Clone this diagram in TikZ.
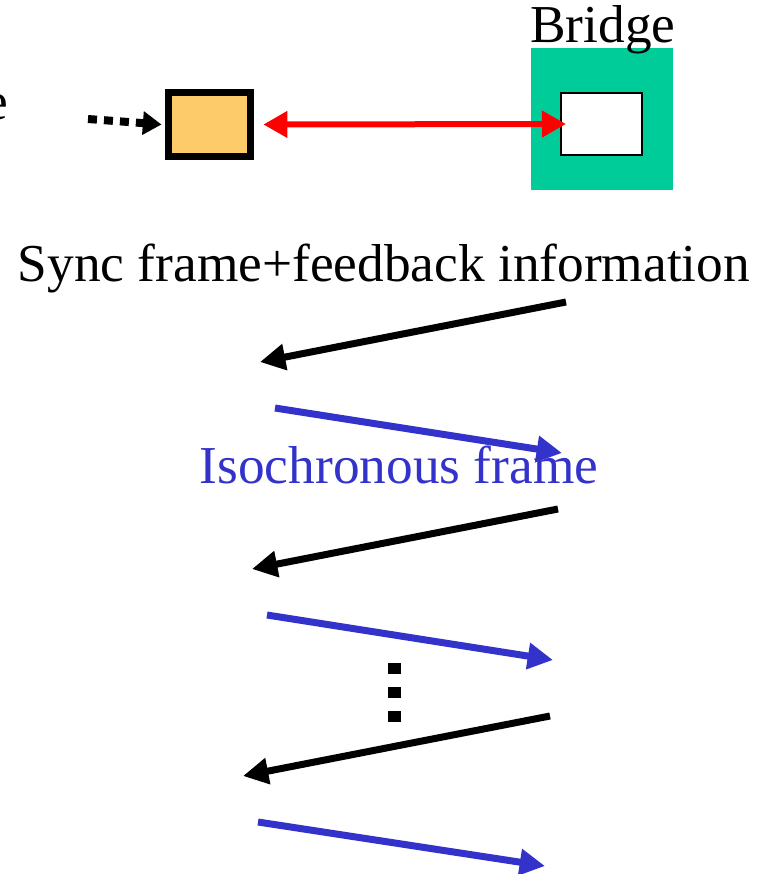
\documentclass[tikz,border=0pt]{standalone}
\usepackage{fontspec}
\setmainfont{Liberation Serif}
\usepackage{tikz}
\usetikzlibrary{arrows.meta}
\definecolor{boxorange}{HTML}{FDCB6A}
\definecolor{bridgegreen}{HTML}{00CC99}
\definecolor{frameblue}{HTML}{3333CC}

\begin{document}
\begin{tikzpicture}[x=0.75pt, y=-0.75pt,
    bigtext/.style={font=\fontsize{40}{46}\selectfont, inner sep=0pt},
    msgarrow/.style={line width=5.25pt, -{Triangle[length=19pt, width=19pt]}}]
            \clip (0,0) rectangle (766,874);
            \fill[white] (0,0) rectangle (766,874);
            % top row: station, link, bridge
            \node[bigtext, anchor=base east] (cut) at (8,119) {e};
            \node[draw, line width=5.25pt, fill=boxorange, inner sep=0pt, minimum width=61.5pt, minimum height=48pt] (src) at (209.5,124.5) {};
            \node[fill=bridgegreen, inner sep=0pt, minimum size=106.5pt] (bridge) at (602,119) {};
            \node[draw, line width=1.5pt, fill=white, inner sep=0pt, minimum width=60.75pt, minimum height=46.5pt] (port) at (601.5,124) {};
            \node[bigtext, anchor=base west] (bridgelbl) at (530,43) {Bridge};
            \coordinate (feed) at (88,119);
            \draw[line width=6pt, dash pattern=on 6.75pt off 5.25pt, -{Triangle[length=14pt, width=17pt]}] (feed) -- ([xshift=-2.6pt]src.west);
            \draw[red, line width=4.5pt, {Triangle[length=18pt, width=19pt]}-{Triangle[length=18pt, width=19pt]}] ([xshift=7pt]src.east) -- ([xshift=4.5pt]port.west);
            % frame exchange
            \node[bigtext, anchor=base] (synclbl) at (384,281) {Sync frame+feedback information};
            \node[bigtext, anchor=base, text=frameblue] (isolbl) at (399,483) {Isochronous frame};
            \coordinate (s1) at (566,302); \coordinate (e1) at (260,362);
            \coordinate (i1) at (275,408); \coordinate (f1) at (562,453);
            \coordinate (s2) at (558,509); \coordinate (e2) at (252,569);
            \coordinate (i2) at (267,615); \coordinate (f2) at (553,660);
            \coordinate (s3) at (550,716); \coordinate (e3) at (243,776);
            \coordinate (i3) at (258,822); \coordinate (f3) at (545,866);
            \draw[msgarrow] (s1) -- (e1);
            \draw[msgarrow, frameblue] (i1) -- (f1);
            \draw[msgarrow] (s2) -- (e2);
            \draw[msgarrow, frameblue] (i2) -- (f2);
            \draw[msgarrow] (s3) -- (e3);
            \draw[msgarrow, frameblue] (i3) -- (f3);
            \foreach \y in {663,687,711}
              \fill (388,\y) rectangle +(13,11);
          \end{tikzpicture}
\end{document}
